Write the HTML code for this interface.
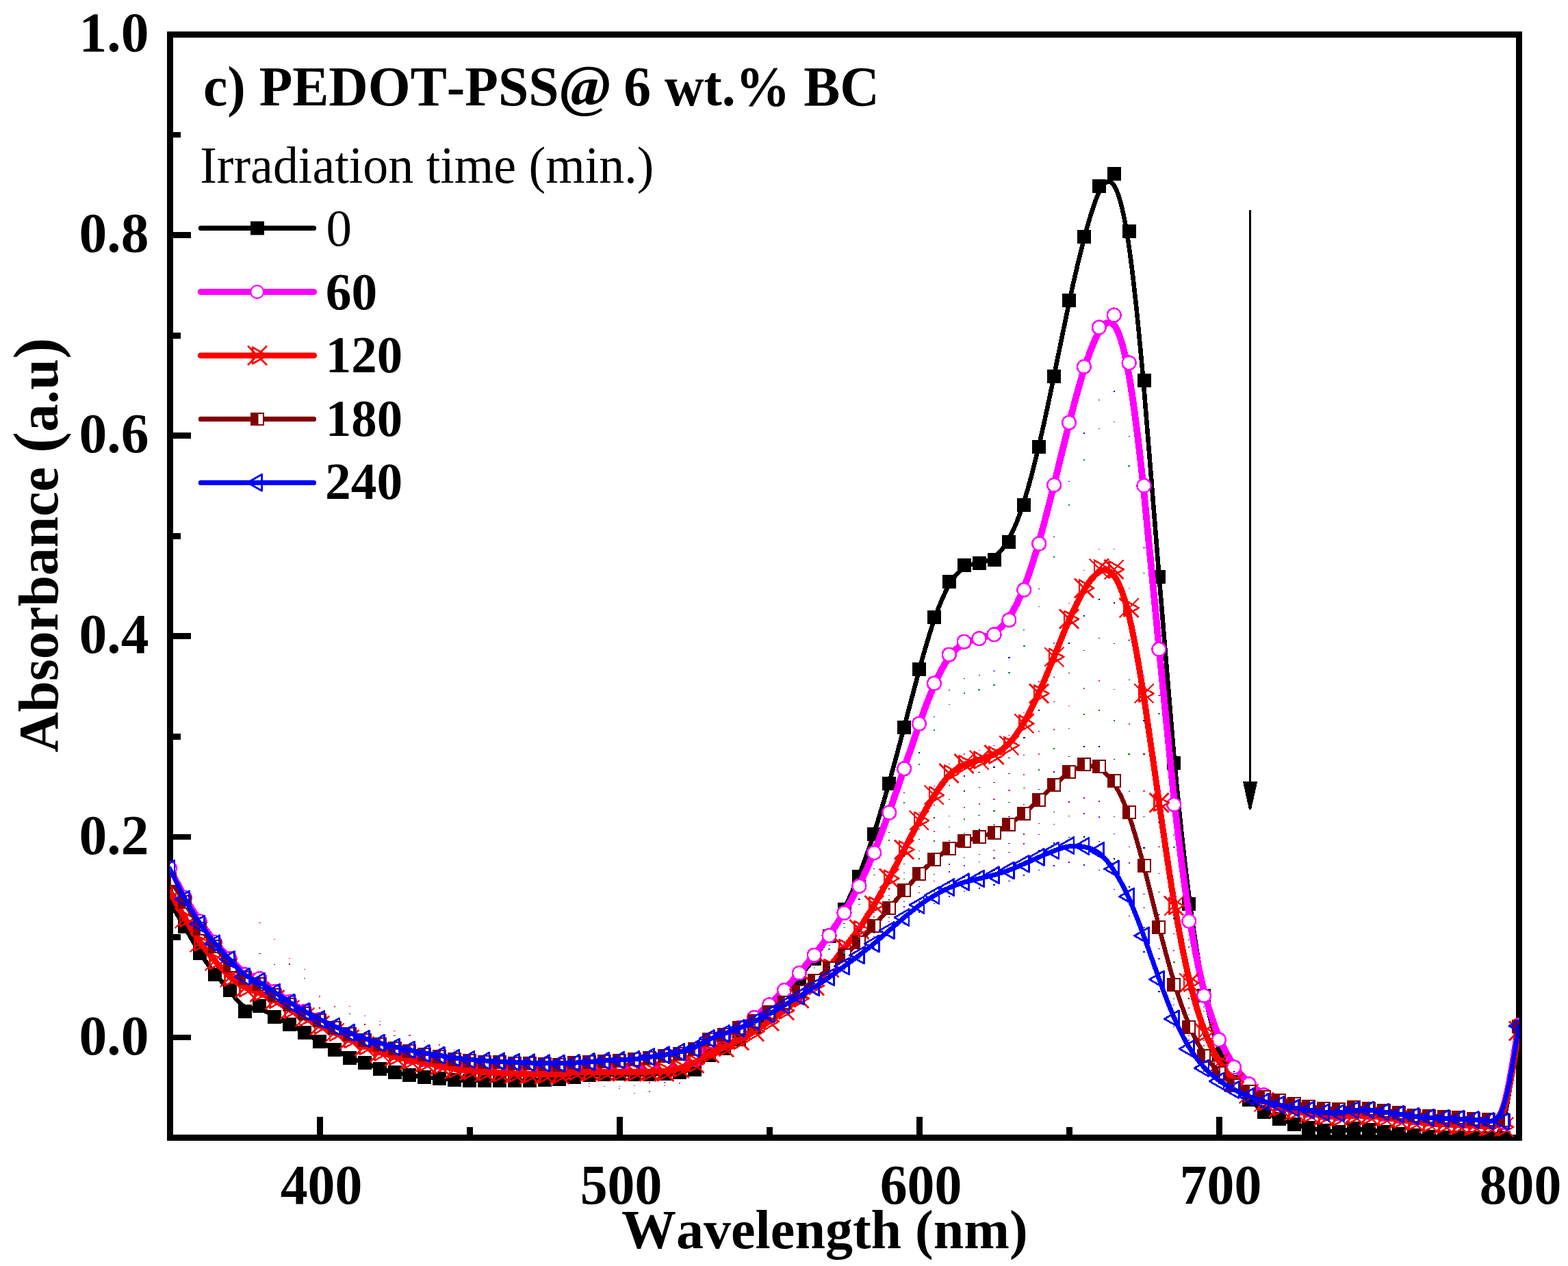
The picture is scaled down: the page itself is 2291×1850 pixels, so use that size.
<!DOCTYPE html>
<html lang="en"><head><meta charset="utf-8"><title>c) PEDOT-PSS@ 6 wt.% BC</title>
<style>html,body{margin:0;padding:0;background:#fff;overflow:hidden}svg{display:block}text{font-family:"Liberation Serif",serif;font-kerning:none;white-space:pre}</style></head><body>
<svg width="2291" height="1850" viewBox="0 0 2291 1850">
<rect width="2291" height="1850" fill="#fff"/>
<defs>
<clipPath id="pc"><rect x="248.4" y="50.5" width="1971.5" height="1612.5"/></clipPath>
<rect id="mk" x="-10" y="-10" width="20" height="20" fill="#000"/>
<circle id="mm" r="9.9" fill="#fff" stroke="#f0f" stroke-width="2.5"/>
<g id="mr" fill="none" stroke="#f00" stroke-width="2.6"><path d="M-14 -14L14 14M-14 14L14 -14"/><path d="M-7 -12L14.2 0L-7 12Z" stroke-linejoin="round"/></g>
<g id="mn"><rect x="-10" y="-10" width="20" height="20" fill="#800000"/><rect x="1.5" y="-8" width="6.5" height="16" fill="#fff"/></g>
<path id="mb" d="M-14 0L7 -12L7 12Z" fill="none" stroke="#00f" stroke-width="2.8" stroke-linejoin="round"/>
</defs>
<g shape-rendering="crispEdges" fill="#000">
<rect x="244" y="46" width="1980" height="9"/>
<rect x="244" y="1658" width="1980" height="9"/>
<rect x="244" y="46" width="9" height="1621"/>
<rect x="2215" y="46" width="9" height="1621"/>
<rect x="250" y="1511.6" width="29" height="8.8"/>
<rect x="250" y="1365" width="14" height="8.8"/>
<rect x="250" y="1218.5" width="29" height="8.8"/>
<rect x="250" y="1071.9" width="14" height="8.8"/>
<rect x="250" y="925.4" width="29" height="8.8"/>
<rect x="250" y="778.8" width="14" height="8.8"/>
<rect x="250" y="632.3" width="29" height="8.8"/>
<rect x="250" y="485.7" width="14" height="8.8"/>
<rect x="250" y="339.2" width="29" height="8.8"/>
<rect x="250" y="192.6" width="14" height="8.8"/>
<rect x="463.1" y="1632" width="8.8" height="28"/>
<rect x="682.1" y="1647" width="8.8" height="13"/>
<rect x="901.1" y="1632" width="8.8" height="28"/>
<rect x="1120.1" y="1647" width="8.8" height="13"/>
<rect x="1339.1" y="1632" width="8.8" height="28"/>
<rect x="1558.1" y="1647" width="8.8" height="13"/>
<rect x="1777.1" y="1632" width="8.8" height="28"/>
<rect x="1996.1" y="1647" width="8.8" height="13"/>
</g>
<g clip-path="url(#pc)" shape-rendering="crispEdges">
<g id="s-black">
<path d="M248 1318C248 1318 248 1318 251.7 1324C255.3 1330.1 262.6 1342.2 269.9 1354.7C277.2 1367.1 284.5 1380 291.8 1391.5C299.1 1403 306.4 1413.3 313.7 1422.3C321 1431.3 328.3 1439 335.6 1448.1C342.9 1457.2 350.2 1467.6 357.5 1471.5C364.8 1475.5 372.1 1472.9 379.4 1474.3C386.7 1475.7 394 1481.1 401.3 1485.5C408.6 1489.9 415.9 1493.3 423.2 1497.1C430.5 1500.9 437.8 1505.1 445.1 1509.2C452.4 1513.4 459.7 1517.7 467 1521.8C474.3 1525.9 481.6 1529.8 488.9 1533.9C496.2 1537.9 503.5 1541.9 510.8 1545.2C518.1 1548.4 525.4 1550.9 532.7 1553.5C540 1556.2 547.3 1559 554.6 1561.3C561.9 1563.6 569.2 1565.2 576.5 1566.8C583.8 1568.3 591.1 1569.6 598.4 1570.8C605.7 1572 613 1573 620.3 1573.9C627.6 1574.7 634.9 1575.5 642.2 1576.1C649.5 1576.8 656.8 1577.4 664.1 1577.9C671.4 1578.3 678.7 1578.7 686 1578.8C693.3 1579 700.6 1579 707.9 1579C715.2 1579 722.5 1579 729.8 1579C737.1 1579 744.4 1579 751.7 1579C759 1579 766.3 1579 773.6 1578.8C780.9 1578.7 788.2 1578.3 795.5 1578C802.8 1577.7 810.1 1577.3 817.4 1576.6C824.7 1576 832 1574.9 839.3 1573.9C846.6 1572.9 853.9 1572 861.2 1571.2C868.5 1570.5 875.8 1570.1 883.1 1569.7C890.4 1569.3 897.7 1569.1 905 1569.1C912.3 1569.1 919.6 1569.3 926.9 1569.5C934.2 1569.6 941.5 1569.6 948.8 1569.5C956.1 1569.3 963.4 1569.1 970.7 1568.6C978 1568.1 985.3 1567.5 992.6 1566.5C999.9 1565.4 1007.2 1564.1 1014.5 1559.9C1021.8 1555.7 1029.1 1548.7 1036.4 1543.6C1043.7 1538.5 1051 1535.2 1058.3 1531.5C1065.6 1527.7 1072.9 1523.3 1080.2 1518.4C1087.5 1513.4 1094.8 1507.8 1102.1 1501.8C1109.4 1495.8 1116.7 1489.4 1124 1481.7C1131.3 1474 1138.6 1465 1145.9 1455.9C1153.2 1446.8 1160.5 1437.7 1167.8 1428.5C1175.1 1419.3 1182.4 1410.2 1189.7 1400.1C1197 1390.1 1204.3 1379.3 1211.6 1367.3C1218.9 1355.4 1226.2 1342.3 1233.5 1327.8C1240.8 1313.2 1248.1 1297 1255.4 1278.6C1262.7 1260.1 1270 1239.4 1277.3 1216.7C1284.6 1194 1291.9 1169.3 1299.2 1143.4C1306.5 1117.4 1313.8 1090.1 1321.1 1062.3C1328.4 1034.5 1335.7 1006.1 1343 979.3C1350.3 952.5 1357.6 927.2 1364.9 905.9C1372.2 884.7 1379.5 867.5 1386.8 854.8C1394.1 842.2 1401.4 834.1 1408.7 829.5C1416 824.9 1423.3 823.9 1430.6 822.4C1437.9 821 1445.2 819.3 1452.5 814.1C1459.8 808.8 1467.1 800.2 1474.4 786.9C1481.7 773.5 1489 755.6 1496.3 732.5C1503.6 709.4 1510.9 681.3 1518.2 650.1C1525.5 618.9 1532.8 584.6 1540.1 549C1547.4 513.4 1554.7 476.4 1562 442.3C1569.3 408.2 1576.6 376.9 1583.9 349C1591.2 321 1598.5 296.3 1605.8 281C1613.1 265.7 1620.4 259.9 1627.7 270.9C1635 282 1642.3 310 1649.6 360.4C1656.9 410.8 1664.2 483.6 1671.5 567.8C1678.8 652 1686.1 747.6 1693.4 840.7C1700.7 933.8 1708 1024.4 1715.3 1104.1C1722.6 1183.8 1729.9 1252.5 1737.2 1309.2C1744.5 1365.9 1751.8 1410.4 1759.1 1447C1766.4 1483.5 1773.7 1512 1781 1533C1788.3 1554 1795.6 1567.5 1802.9 1578.5C1810.2 1589.6 1817.5 1598.1 1824.8 1605.5C1832.1 1612.8 1839.4 1618.9 1846.7 1623.7C1854 1628.4 1861.3 1631.9 1868.6 1634.8C1875.9 1637.8 1883.2 1640.3 1890.5 1642.5C1897.8 1644.7 1905.1 1646.5 1912.4 1648.1C1919.7 1649.7 1927 1651 1934.3 1652C1941.6 1652.9 1948.9 1653.6 1956.2 1653.1C1963.5 1652.5 1970.8 1650.9 1978.1 1650.4C1985.4 1649.9 1992.7 1650.7 2000 1651.4C2007.3 1652.1 2014.6 1652.9 2021.9 1653.8C2029.2 1654.7 2036.5 1655.9 2043.8 1656.8C2051.1 1657.7 2058.4 1658.5 2065.7 1659C2073 1659.6 2080.3 1660.1 2087.6 1660.5C2094.9 1660.8 2102.2 1661.2 2109.5 1661.4C2116.8 1661.7 2124.1 1661.8 2131.4 1662C2138.7 1662.2 2146 1662.3 2153.3 1662.5C2160.6 1662.7 2167.9 1662.8 2175.2 1662.9C2182.5 1663 2189.8 1663 2197.1 1635.8C2204.4 1608.7 2211.7 1554.3 2215.3 1527.2C2219 1500 2219 1500 2219 1500" fill="none" stroke="#000000" stroke-width="6.6" stroke-linejoin="round" stroke-linecap="round"/>
<use href="#mk" x="248" y="1318"/>
<use href="#mk" x="269.9" y="1354.3"/>
<use href="#mk" x="291.8" y="1392.8"/>
<use href="#mk" x="313.7" y="1423.5"/>
<use href="#mk" x="335.6" y="1446.8"/>
<use href="#mk" x="357.5" y="1478"/>
<use href="#mk" x="379.4" y="1470.4"/>
<use href="#mk" x="401.3" y="1486.4"/>
<use href="#mk" x="423.2" y="1496.8"/>
<use href="#mk" x="445.1" y="1509.2"/>
<use href="#mk" x="467" y="1521.9"/>
<use href="#mk" x="488.9" y="1533.8"/>
<use href="#mk" x="510.8" y="1546"/>
<use href="#mk" x="532.7" y="1553.3"/>
<use href="#mk" x="554.6" y="1561.9"/>
<use href="#mk" x="576.5" y="1566.9"/>
<use href="#mk" x="598.4" y="1571"/>
<use href="#mk" x="620.3" y="1574"/>
<use href="#mk" x="642.2" y="1576.2"/>
<use href="#mk" x="664.1" y="1578"/>
<use href="#mk" x="686" y="1579"/>
<use href="#mk" x="707.9" y="1579"/>
<use href="#mk" x="729.8" y="1579"/>
<use href="#mk" x="751.7" y="1579"/>
<use href="#mk" x="773.6" y="1579"/>
<use href="#mk" x="795.5" y="1578"/>
<use href="#mk" x="817.4" y="1577"/>
<use href="#mk" x="839.3" y="1573.9"/>
<use href="#mk" x="861.2" y="1571"/>
<use href="#mk" x="883.1" y="1569.6"/>
<use href="#mk" x="905" y="1568.8"/>
<use href="#mk" x="926.9" y="1569.6"/>
<use href="#mk" x="948.8" y="1569.6"/>
<use href="#mk" x="970.7" y="1568.8"/>
<use href="#mk" x="992.6" y="1566.8"/>
<use href="#mk" x="1014.5" y="1562.7"/>
<use href="#mk" x="1036.4" y="1541.7"/>
<use href="#mk" x="1058.3" y="1532"/>
<use href="#mk" x="1080.2" y="1519"/>
<use href="#mk" x="1102.1" y="1502.2"/>
<use href="#mk" x="1124" y="1483"/>
<use href="#mk" x="1145.9" y="1456"/>
<use href="#mk" x="1167.8" y="1428.5"/>
<use href="#mk" x="1189.7" y="1401"/>
<use href="#mk" x="1211.6" y="1368.4"/>
<use href="#mk" x="1233.5" y="1329.3"/>
<use href="#mk" x="1255.4" y="1280.9"/>
<use href="#mk" x="1277.3" y="1218.6"/>
<use href="#mk" x="1299.2" y="1144.7"/>
<use href="#mk" x="1321.1" y="1062.8"/>
<use href="#mk" x="1343" y="977.8"/>
<use href="#mk" x="1364.9" y="901.9"/>
<use href="#mk" x="1386.8" y="850.3"/>
<use href="#mk" x="1408.7" y="826"/>
<use href="#mk" x="1430.6" y="822.8"/>
<use href="#mk" x="1452.5" y="817.5"/>
<use href="#mk" x="1474.4" y="791.5"/>
<use href="#mk" x="1496.3" y="737.6"/>
<use href="#mk" x="1518.2" y="653.1"/>
<use href="#mk" x="1540.1" y="550.4"/>
<use href="#mk" x="1562" y="439.4"/>
<use href="#mk" x="1583.9" y="345.7"/>
<use href="#mk" x="1605.8" y="271.6"/>
<use href="#mk" x="1627.7" y="254"/>
<use href="#mk" x="1649.6" y="338"/>
<use href="#mk" x="1671.5" y="556.4"/>
<use href="#mk" x="1693.4" y="843.2"/>
<use href="#mk" x="1715.3" y="1115"/>
<use href="#mk" x="1737.2" y="1321.3"/>
<use href="#mk" x="1759.1" y="1455"/>
<use href="#mk" x="1781" y="1540.5"/>
<use href="#mk" x="1802.9" y="1581"/>
<use href="#mk" x="1824.8" y="1606.7"/>
<use href="#mk" x="1846.7" y="1625"/>
<use href="#mk" x="1868.6" y="1635.3"/>
<use href="#mk" x="1890.5" y="1642.8"/>
<use href="#mk" x="1912.4" y="1648.4"/>
<use href="#mk" x="1934.3" y="1652.3"/>
<use href="#mk" x="1956.2" y="1654.2"/>
<use href="#mk" x="1978.1" y="1649.2"/>
<use href="#mk" x="2000" y="1651.4"/>
<use href="#mk" x="2021.9" y="1653.6"/>
<use href="#mk" x="2043.8" y="1657"/>
<use href="#mk" x="2065.7" y="1659.2"/>
<use href="#mk" x="2087.6" y="1660.5"/>
<use href="#mk" x="2109.5" y="1661.5"/>
<use href="#mk" x="2131.4" y="1662"/>
<use href="#mk" x="2153.3" y="1662.5"/>
<use href="#mk" x="2175.2" y="1663"/>
<use href="#mk" x="2197.1" y="1663"/>
<use href="#mk" x="2219" y="1500"/>
</g>
<g id="s-magenta">
<path d="M248 1269C248 1269 248 1269 251.7 1276.2C255.3 1283.3 262.6 1297.7 269.9 1310.6C277.2 1323.5 284.5 1335 291.8 1345.8C299.1 1356.7 306.4 1366.8 313.7 1375.9C321 1385 328.3 1393 335.6 1400.8C342.9 1408.7 350.2 1416.3 357.5 1421.2C364.8 1426 372.1 1428 379.4 1432.2C386.7 1436.3 394 1442.7 401.3 1448.3C408.6 1454 415.9 1459 423.2 1463.8C430.5 1468.7 437.8 1473.3 445.1 1477.7C452.4 1482 459.7 1486 467 1490C474.3 1494 481.6 1498 488.9 1501.8C496.2 1505.7 503.5 1509.3 510.8 1512.8C518.1 1516.3 525.4 1519.7 532.7 1522.7C540 1525.7 547.3 1528.3 554.6 1530.8C561.9 1533.3 569.2 1535.7 576.5 1537.8C583.8 1540 591.1 1542 598.4 1543.7C605.7 1545.3 613 1546.7 620.3 1548C627.6 1549.3 634.9 1550.7 642.2 1551.8C649.5 1553 656.8 1554 664.1 1554.8C671.4 1555.7 678.7 1556.3 686 1557C693.3 1557.7 700.6 1558.3 707.9 1558.8C715.2 1559.3 722.5 1559.7 729.8 1560C737.1 1560.3 744.4 1560.7 751.7 1560.8C759 1561 766.3 1561 773.6 1561C780.9 1561 788.2 1561 795.5 1561C802.8 1561 810.1 1561 817.4 1560.8C824.7 1560.7 832 1560.3 839.3 1560.1C846.6 1559.8 853.9 1559.6 861.2 1559.3C868.5 1559.1 875.8 1558.9 883.1 1558.7C890.4 1558.4 897.7 1558.2 905 1558C912.3 1557.8 919.6 1557.6 926.9 1557.3C934.2 1557.1 941.5 1556.9 948.8 1556.7C956.1 1556.4 963.4 1556.2 970.7 1555.6C978 1555 985.3 1554 992.6 1552.7C999.9 1551.3 1007.2 1549.7 1014.5 1544.5C1021.8 1539.3 1029.1 1530.7 1036.4 1524.8C1043.7 1519 1051 1516 1058.3 1512.7C1065.6 1509.3 1072.9 1505.7 1080.2 1501.3C1087.5 1497 1094.8 1492 1102.1 1486.4C1109.4 1480.8 1116.7 1474.6 1124 1467.9C1131.3 1461.3 1138.6 1454.1 1145.9 1446.4C1153.2 1438.6 1160.5 1430.3 1167.8 1421.7C1175.1 1413.2 1182.4 1404.5 1189.7 1395.4C1197 1386.2 1204.3 1376.7 1211.6 1366.4C1218.9 1356.1 1226.2 1345 1233.5 1333C1240.8 1321 1248.1 1307.9 1255.4 1293.3C1262.7 1278.6 1270 1262.4 1277.3 1244.5C1284.6 1226.6 1291.9 1207 1299.2 1186.6C1306.5 1166.1 1313.8 1144.7 1321.1 1123C1328.4 1101.4 1335.7 1079.5 1343 1058.7C1350.3 1037.9 1357.6 1018.3 1364.9 1001.4C1372.2 984.6 1379.5 970.7 1386.8 960.5C1394.1 950.4 1401.4 944.1 1408.7 940.2C1416 936.2 1423.3 934.7 1430.6 932.9C1437.9 931.2 1445.2 929.2 1452.5 924.7C1459.8 920.2 1467.1 913.1 1474.4 902.2C1481.7 891.3 1489 876.7 1496.3 858.1C1503.6 839.5 1510.9 817 1518.2 791.4C1525.5 765.9 1532.8 737.3 1540.1 707.8C1547.4 678.3 1554.7 648 1562 619.2C1569.3 590.4 1576.6 563.1 1583.9 539.9C1591.2 516.8 1598.5 497.6 1605.8 485.1C1613.1 472.5 1620.4 466.5 1627.7 475.1C1635 483.8 1642.3 507 1649.6 548.6C1656.9 590.1 1664.2 649.9 1671.5 719.7C1678.8 789.4 1686.1 869.1 1693.4 946.8C1700.7 1024.5 1708 1100.1 1715.3 1166.3C1722.6 1232.5 1729.9 1289.3 1737.2 1335.8C1744.5 1382.3 1751.8 1418.6 1759.1 1447.5C1766.4 1476.4 1773.7 1497.9 1781 1515.3C1788.3 1532.7 1795.6 1546.1 1802.9 1556.9C1810.2 1567.7 1817.5 1575.9 1824.8 1582.7C1832.1 1589.5 1839.4 1594.9 1846.7 1599.2C1854 1603.6 1861.3 1606.9 1868.6 1609.7C1875.9 1612.5 1883.2 1614.8 1890.5 1616.7C1897.8 1618.7 1905.1 1620.3 1912.4 1621.8C1919.7 1623.3 1927 1624.7 1934.3 1625.5C1941.6 1626.3 1948.9 1626.7 1956.2 1626.2C1963.5 1625.7 1970.8 1624.3 1978.1 1624.1C1985.4 1623.8 1992.7 1624.7 2000 1625.5C2007.3 1626.3 2014.6 1627.2 2021.9 1628C2029.2 1628.9 2036.5 1629.9 2043.8 1630.7C2051.1 1631.5 2058.4 1632.3 2065.7 1633C2073 1633.7 2080.3 1634.3 2087.6 1634.8C2094.9 1635.3 2102.2 1635.7 2109.5 1636C2116.8 1636.3 2124.1 1636.7 2131.4 1637C2138.7 1637.3 2146 1637.7 2153.3 1637.9C2160.6 1638.2 2167.9 1638.3 2175.2 1638.7C2182.5 1639 2189.8 1639.5 2197.1 1616.1C2204.4 1592.7 2211.7 1545.3 2215.3 1521.7C2219 1498 2219 1498 2219 1498" fill="none" stroke="#ff00ff" stroke-width="9.8" stroke-linejoin="round" stroke-linecap="round"/>
<use href="#mm" x="248" y="1269"/>
<use href="#mm" x="269.9" y="1312"/>
<use href="#mm" x="291.8" y="1346.5"/>
<use href="#mm" x="313.7" y="1377"/>
<use href="#mm" x="335.6" y="1401"/>
<use href="#mm" x="357.5" y="1424"/>
<use href="#mm" x="379.4" y="1430"/>
<use href="#mm" x="401.3" y="1449"/>
<use href="#mm" x="423.2" y="1464"/>
<use href="#mm" x="445.1" y="1478"/>
<use href="#mm" x="467" y="1490"/>
<use href="#mm" x="488.9" y="1502"/>
<use href="#mm" x="510.8" y="1513"/>
<use href="#mm" x="532.7" y="1523"/>
<use href="#mm" x="554.6" y="1531"/>
<use href="#mm" x="576.5" y="1538"/>
<use href="#mm" x="598.4" y="1544"/>
<use href="#mm" x="620.3" y="1548"/>
<use href="#mm" x="642.2" y="1552"/>
<use href="#mm" x="664.1" y="1555"/>
<use href="#mm" x="686" y="1557"/>
<use href="#mm" x="707.9" y="1559"/>
<use href="#mm" x="729.8" y="1560"/>
<use href="#mm" x="751.7" y="1561"/>
<use href="#mm" x="773.6" y="1561"/>
<use href="#mm" x="795.5" y="1561"/>
<use href="#mm" x="817.4" y="1561"/>
<use href="#mm" x="839.3" y="1560"/>
<use href="#mm" x="861.2" y="1559.3"/>
<use href="#mm" x="883.1" y="1558.7"/>
<use href="#mm" x="905" y="1558"/>
<use href="#mm" x="926.9" y="1557.3"/>
<use href="#mm" x="948.8" y="1556.7"/>
<use href="#mm" x="970.7" y="1556"/>
<use href="#mm" x="992.6" y="1553"/>
<use href="#mm" x="1014.5" y="1548"/>
<use href="#mm" x="1036.4" y="1522"/>
<use href="#mm" x="1058.3" y="1513"/>
<use href="#mm" x="1080.2" y="1502"/>
<use href="#mm" x="1102.1" y="1487"/>
<use href="#mm" x="1124" y="1468.4"/>
<use href="#mm" x="1145.9" y="1447"/>
<use href="#mm" x="1167.8" y="1421.9"/>
<use href="#mm" x="1189.7" y="1395.8"/>
<use href="#mm" x="1211.6" y="1367.1"/>
<use href="#mm" x="1233.5" y="1334"/>
<use href="#mm" x="1255.4" y="1294.9"/>
<use href="#mm" x="1277.3" y="1246.1"/>
<use href="#mm" x="1299.2" y="1187.5"/>
<use href="#mm" x="1321.1" y="1123.3"/>
<use href="#mm" x="1343" y="1057.6"/>
<use href="#mm" x="1364.9" y="998.6"/>
<use href="#mm" x="1386.8" y="956.7"/>
<use href="#mm" x="1408.7" y="937.8"/>
<use href="#mm" x="1430.6" y="933.1"/>
<use href="#mm" x="1452.5" y="927.3"/>
<use href="#mm" x="1474.4" y="906"/>
<use href="#mm" x="1496.3" y="862"/>
<use href="#mm" x="1518.2" y="794.5"/>
<use href="#mm" x="1540.1" y="708.7"/>
<use href="#mm" x="1562" y="617.6"/>
<use href="#mm" x="1583.9" y="535.9"/>
<use href="#mm" x="1605.8" y="478.5"/>
<use href="#mm" x="1627.7" y="460.5"/>
<use href="#mm" x="1649.6" y="530.3"/>
<use href="#mm" x="1671.5" y="709.7"/>
<use href="#mm" x="1693.4" y="948.8"/>
<use href="#mm" x="1715.3" y="1175.8"/>
<use href="#mm" x="1737.2" y="1346"/>
<use href="#mm" x="1759.1" y="1454.9"/>
<use href="#mm" x="1781" y="1519.4"/>
<use href="#mm" x="1802.9" y="1559.4"/>
<use href="#mm" x="1824.8" y="1584.2"/>
<use href="#mm" x="1846.7" y="1600.2"/>
<use href="#mm" x="1868.6" y="1610.3"/>
<use href="#mm" x="1890.5" y="1617"/>
<use href="#mm" x="1912.4" y="1622"/>
<use href="#mm" x="1934.3" y="1626"/>
<use href="#mm" x="1956.2" y="1627"/>
<use href="#mm" x="1978.1" y="1623"/>
<use href="#mm" x="2000" y="1625.5"/>
<use href="#mm" x="2021.9" y="1628"/>
<use href="#mm" x="2043.8" y="1630.8"/>
<use href="#mm" x="2065.7" y="1633"/>
<use href="#mm" x="2087.6" y="1635"/>
<use href="#mm" x="2109.5" y="1636"/>
<use href="#mm" x="2131.4" y="1637"/>
<use href="#mm" x="2153.3" y="1638"/>
<use href="#mm" x="2175.2" y="1638.5"/>
<use href="#mm" x="2197.1" y="1640"/>
<use href="#mm" x="2219" y="1498"/>
</g>
<g id="s-red">
<path d="M248 1302.8C248 1302.8 248 1302.8 251.7 1309.3C255.3 1315.9 262.6 1328.9 269.9 1341.3C277.2 1353.7 284.5 1365.5 291.8 1375.8C299.1 1386.2 306.4 1395.2 313.7 1403.7C321 1412.3 328.3 1420.3 335.6 1427C342.9 1433.7 350.2 1438.9 357.5 1442.5C364.8 1446.1 372.1 1448.1 379.4 1450.9C386.7 1453.7 394 1457.3 401.3 1461.6C408.6 1465.9 415.9 1470.9 423.2 1475.2C430.5 1479.5 437.8 1483.3 445.1 1487.1C452.4 1490.9 459.7 1494.7 467 1498.4C474.3 1502.1 481.6 1505.5 488.9 1508.9C496.2 1512.3 503.5 1515.7 510.8 1519C518.1 1522.3 525.4 1525.7 532.7 1528.8C540 1531.9 547.3 1534.8 554.6 1537.3C561.9 1539.8 569.2 1541.9 576.5 1543.8C583.8 1545.7 591.1 1547.3 598.4 1548.8C605.7 1550.3 613 1551.7 620.3 1553C627.6 1554.3 634.9 1555.7 642.2 1557.2C649.5 1558.8 656.8 1560.7 664.1 1561.9C671.4 1563.2 678.7 1563.8 686 1564.5C693.3 1565.2 700.6 1565.8 707.9 1566.4C715.2 1567 722.5 1567.5 729.8 1567.9C737.1 1568.3 744.4 1568.7 751.7 1569C759 1569.3 766.3 1569.5 773.6 1569.7C780.9 1569.9 788.2 1569.9 795.5 1570C802.8 1570 810.1 1570 817.4 1569.3C824.7 1568.7 832 1567.3 839.3 1566.7C846.6 1566 853.9 1566 861.2 1566C868.5 1566 875.8 1566 883.1 1566C890.4 1566 897.7 1566 905 1566C912.3 1566 919.6 1566 926.9 1566C934.2 1566 941.5 1566 948.8 1566C956.1 1566 963.4 1566 970.7 1565.2C978 1564.5 985.3 1562.9 992.6 1560.9C999.9 1558.9 1007.2 1556.5 1014.5 1552.7C1021.8 1549 1029.1 1544 1036.4 1540.1C1043.7 1536.2 1051 1533.5 1058.3 1530.4C1065.6 1527.3 1072.9 1523.9 1080.2 1520C1087.5 1516.1 1094.8 1511.8 1102.1 1507.1C1109.4 1502.5 1116.7 1497.5 1124 1492.4C1131.3 1487.3 1138.6 1482 1145.9 1476.4C1153.2 1470.8 1160.5 1464.9 1167.8 1458.9C1175.1 1452.8 1182.4 1446.7 1189.7 1439.2C1197 1431.7 1204.3 1422.8 1211.6 1413.6C1218.9 1404.3 1226.2 1394.7 1233.5 1385.4C1240.8 1376 1248.1 1367.1 1255.4 1356.7C1262.7 1346.3 1270 1334.6 1277.3 1322.2C1284.6 1309.8 1291.9 1296.7 1299.2 1283.2C1306.5 1269.6 1313.8 1255.6 1321.1 1241.5C1328.4 1227.3 1335.7 1213.2 1343 1199.9C1350.3 1186.6 1357.6 1174.3 1364.9 1162.8C1372.2 1151.3 1379.5 1140.8 1386.8 1133.2C1394.1 1125.6 1401.4 1120.9 1408.7 1117.7C1416 1114.4 1423.3 1112.6 1430.6 1110.4C1437.9 1108.2 1445.2 1105.8 1452.5 1102.2C1459.8 1098.6 1467.1 1094 1474.4 1086.3C1481.7 1078.6 1489 1068 1496.3 1055.3C1503.6 1042.7 1510.9 1028 1518.2 1011.8C1525.5 995.6 1532.8 977.8 1540.1 959.7C1547.4 941.6 1554.7 923.1 1562 906.4C1569.3 889.6 1576.6 874.6 1583.9 862.2C1591.2 849.9 1598.5 840.3 1605.8 835.8C1613.1 831.2 1620.4 831.7 1627.7 841.3C1635 850.9 1642.3 869.7 1649.6 899.9C1656.9 930.1 1664.2 971.8 1671.5 1019.2C1678.8 1066.7 1686.1 1119.8 1693.4 1171.5C1700.7 1223.2 1708 1273.5 1715.3 1317.4C1722.6 1361.2 1729.9 1398.8 1737.2 1429.6C1744.5 1460.5 1751.8 1484.6 1759.1 1504.1C1766.4 1523.5 1773.7 1538.3 1781 1550.4C1788.3 1562.5 1795.6 1571.9 1802.9 1579.5C1810.2 1587 1817.5 1592.7 1824.8 1597.5C1832.1 1602.3 1839.4 1606.4 1846.7 1609.7C1854 1612.9 1861.3 1615.5 1868.6 1617.6C1875.9 1619.8 1883.2 1621.7 1890.5 1623.2C1897.8 1624.8 1905.1 1626.2 1912.4 1627.3C1919.7 1628.5 1927 1629.5 1934.3 1630.3C1941.6 1631.1 1948.9 1631.7 1956.2 1631.5C1963.5 1631.4 1970.8 1630.4 1978.1 1630.1C1985.4 1629.8 1992.7 1630 2000 1630.6C2007.3 1631.2 2014.6 1632.1 2021.9 1633C2029.2 1634 2036.5 1635 2043.8 1636C2051.1 1637 2058.4 1638 2065.7 1638.9C2073 1639.8 2080.3 1640.7 2087.6 1641.3C2094.9 1642 2102.2 1642.5 2109.5 1642.9C2116.8 1643.3 2124.1 1643.7 2131.4 1644C2138.7 1644.3 2146 1644.7 2153.3 1645C2160.6 1645.3 2167.9 1645.7 2175.2 1646C2182.5 1646.3 2189.8 1646.7 2197.1 1623.4C2204.4 1600.2 2211.7 1553.4 2215.3 1530C2219 1506.6 2219 1506.6 2219 1506.6" fill="none" stroke="#ff0000" stroke-width="9.0" stroke-linejoin="round" stroke-linecap="round"/>
<use href="#mr" x="248" y="1302.8"/>
<use href="#mr" x="269.9" y="1342"/>
<use href="#mr" x="291.8" y="1377.2"/>
<use href="#mr" x="313.7" y="1404.2"/>
<use href="#mr" x="335.6" y="1428.4"/>
<use href="#mr" x="357.5" y="1444.2"/>
<use href="#mr" x="379.4" y="1450"/>
<use href="#mr" x="401.3" y="1461"/>
<use href="#mr" x="423.2" y="1475.8"/>
<use href="#mr" x="445.1" y="1487"/>
<use href="#mr" x="467" y="1498.6"/>
<use href="#mr" x="488.9" y="1509"/>
<use href="#mr" x="510.8" y="1519"/>
<use href="#mr" x="532.7" y="1529"/>
<use href="#mr" x="554.6" y="1537.7"/>
<use href="#mr" x="576.5" y="1544"/>
<use href="#mr" x="598.4" y="1549"/>
<use href="#mr" x="620.3" y="1553"/>
<use href="#mr" x="642.2" y="1557"/>
<use href="#mr" x="664.1" y="1562.5"/>
<use href="#mr" x="686" y="1564.5"/>
<use href="#mr" x="707.9" y="1566.5"/>
<use href="#mr" x="729.8" y="1568"/>
<use href="#mr" x="751.7" y="1569"/>
<use href="#mr" x="773.6" y="1569.8"/>
<use href="#mr" x="795.5" y="1570"/>
<use href="#mr" x="817.4" y="1570"/>
<use href="#mr" x="839.3" y="1566"/>
<use href="#mr" x="861.2" y="1566"/>
<use href="#mr" x="883.1" y="1566"/>
<use href="#mr" x="905" y="1566"/>
<use href="#mr" x="926.9" y="1566"/>
<use href="#mr" x="948.8" y="1566"/>
<use href="#mr" x="970.7" y="1566"/>
<use href="#mr" x="992.6" y="1561.4"/>
<use href="#mr" x="1014.5" y="1554"/>
<use href="#mr" x="1036.4" y="1539"/>
<use href="#mr" x="1058.3" y="1530.7"/>
<use href="#mr" x="1080.2" y="1520.5"/>
<use href="#mr" x="1102.1" y="1507.4"/>
<use href="#mr" x="1124" y="1492.6"/>
<use href="#mr" x="1145.9" y="1476.7"/>
<use href="#mr" x="1167.8" y="1459"/>
<use href="#mr" x="1189.7" y="1440.5"/>
<use href="#mr" x="1211.6" y="1414"/>
<use href="#mr" x="1233.5" y="1385"/>
<use href="#mr" x="1255.4" y="1358.1"/>
<use href="#mr" x="1277.3" y="1322.8"/>
<use href="#mr" x="1299.2" y="1283.7"/>
<use href="#mr" x="1321.1" y="1241.5"/>
<use href="#mr" x="1343" y="1199"/>
<use href="#mr" x="1364.9" y="1161.9"/>
<use href="#mr" x="1386.8" y="1130.2"/>
<use href="#mr" x="1408.7" y="1116.3"/>
<use href="#mr" x="1430.6" y="1110.7"/>
<use href="#mr" x="1452.5" y="1103.3"/>
<use href="#mr" x="1474.4" y="1089.3"/>
<use href="#mr" x="1496.3" y="1057.3"/>
<use href="#mr" x="1518.2" y="1013.4"/>
<use href="#mr" x="1540.1" y="960"/>
<use href="#mr" x="1562" y="904.7"/>
<use href="#mr" x="1583.9" y="859.5"/>
<use href="#mr" x="1605.8" y="830.7"/>
<use href="#mr" x="1627.7" y="832.2"/>
<use href="#mr" x="1649.6" y="888.4"/>
<use href="#mr" x="1671.5" y="1013.5"/>
<use href="#mr" x="1693.4" y="1173"/>
<use href="#mr" x="1715.3" y="1323.7"/>
<use href="#mr" x="1737.2" y="1436.3"/>
<use href="#mr" x="1759.1" y="1508.8"/>
<use href="#mr" x="1781" y="1553"/>
<use href="#mr" x="1802.9" y="1581.4"/>
<use href="#mr" x="1824.8" y="1598.3"/>
<use href="#mr" x="1846.7" y="1610.4"/>
<use href="#mr" x="1868.6" y="1618"/>
<use href="#mr" x="1890.5" y="1623.5"/>
<use href="#mr" x="1912.4" y="1627.5"/>
<use href="#mr" x="1934.3" y="1630.5"/>
<use href="#mr" x="1956.2" y="1632.3"/>
<use href="#mr" x="1978.1" y="1629.5"/>
<use href="#mr" x="2000" y="1630.3"/>
<use href="#mr" x="2021.9" y="1633"/>
<use href="#mr" x="2043.8" y="1636"/>
<use href="#mr" x="2065.7" y="1639"/>
<use href="#mr" x="2087.6" y="1641.5"/>
<use href="#mr" x="2109.5" y="1643"/>
<use href="#mr" x="2131.4" y="1644"/>
<use href="#mr" x="2153.3" y="1645"/>
<use href="#mr" x="2175.2" y="1646"/>
<use href="#mr" x="2197.1" y="1647"/>
<use href="#mr" x="2219" y="1506.6"/>
</g>
<g id="s-maroon">
<path d="M248 1285C248 1285 248 1285 251.7 1290.5C255.3 1295.9 262.6 1306.8 269.9 1318.8C277.2 1330.7 284.5 1343.7 291.8 1354.5C299.1 1365.4 306.4 1374.1 313.7 1383.1C321 1392.1 328.3 1401.4 335.6 1409.1C342.9 1416.9 350.2 1423.1 357.5 1427.6C364.8 1432.1 372.1 1434.9 379.4 1438.9C386.7 1443 394 1448.2 401.3 1453.4C408.6 1458.5 415.9 1463.4 423.2 1467.9C430.5 1472.4 437.8 1476.5 445.1 1480.2C452.4 1484 459.7 1487.5 467 1491C474.3 1494.5 481.6 1498 488.9 1501.3C496.2 1504.6 503.5 1507.6 510.8 1510.6C518.1 1513.6 525.4 1516.6 532.7 1519C540 1521.5 547.3 1523.6 554.6 1525.6C561.9 1527.6 569.2 1529.5 576.5 1531.2C583.8 1532.9 591.1 1534.2 598.4 1535.8C605.7 1537.3 613 1539.1 620.3 1540.4C627.6 1541.7 634.9 1542.7 642.2 1543.8C649.5 1544.9 656.8 1546.2 664.1 1547.2C671.4 1548.3 678.7 1549 686 1549.7C693.3 1550.4 700.6 1551 707.9 1551.4C715.2 1551.9 722.5 1552.1 729.8 1552.5C737.1 1552.8 744.4 1553.1 751.7 1553.5C759 1553.8 766.3 1554.1 773.6 1554.4C780.9 1554.7 788.2 1555.1 795.5 1555.2C802.8 1555.4 810.1 1555.5 817.4 1555.1C824.7 1554.7 832 1553.8 839.3 1553.2C846.6 1552.7 853.9 1552.3 861.2 1552C868.5 1551.7 875.8 1551.3 883.1 1551C890.4 1550.6 897.7 1550.3 905 1549.8C912.3 1549.3 919.6 1548.6 926.9 1547.9C934.2 1547.3 941.5 1546.5 948.8 1545.7C956.1 1544.9 963.4 1543.9 970.7 1543C978 1542 985.3 1541 992.6 1539.4C999.9 1537.7 1007.2 1535.4 1014.5 1531.9C1021.8 1528.3 1029.1 1523.6 1036.4 1520C1043.7 1516.4 1051 1514.1 1058.3 1511.2C1065.6 1508.4 1072.9 1505.2 1080.2 1501.9C1087.5 1498.7 1094.8 1495.4 1102.1 1491.7C1109.4 1487.9 1116.7 1483.5 1124 1479C1131.3 1474.4 1138.6 1469.6 1145.9 1464.5C1153.2 1459.4 1160.5 1453.9 1167.8 1448.6C1175.1 1443.2 1182.4 1438 1189.7 1432.4C1197 1426.8 1204.3 1420.9 1211.6 1414.8C1218.9 1408.7 1226.2 1402.3 1233.5 1396C1240.8 1389.6 1248.1 1383.1 1255.4 1375.9C1262.7 1368.7 1270 1360.6 1277.3 1352.4C1284.6 1344.1 1291.9 1335.6 1299.2 1327.1C1306.5 1318.5 1313.8 1310 1321.1 1301.7C1328.4 1293.3 1335.7 1285.3 1343 1277.7C1350.3 1270.1 1357.6 1262.9 1364.9 1256.7C1372.2 1250.4 1379.5 1245 1386.8 1240.5C1394.1 1236 1401.4 1232.4 1408.7 1229.7C1416 1227 1423.3 1225.1 1430.6 1223.2C1437.9 1221.2 1445.2 1219.2 1452.5 1216.1C1459.8 1213.1 1467.1 1209.2 1474.4 1204.5C1481.7 1199.7 1489 1194.3 1496.3 1188.3C1503.6 1182.3 1510.9 1175.8 1518.2 1168.8C1525.5 1161.9 1532.8 1154.4 1540.1 1147.5C1547.4 1140.7 1554.7 1134.3 1562 1129.4C1569.3 1124.4 1576.6 1120.8 1583.9 1119.5C1591.2 1118.3 1598.5 1119.3 1605.8 1123.3C1613.1 1127.2 1620.4 1134 1627.7 1145.1C1635 1156.2 1642.3 1171.6 1649.6 1192.2C1656.9 1212.9 1664.2 1238.7 1671.5 1266.8C1678.8 1294.8 1686.1 1325.1 1693.4 1354C1700.7 1383 1708 1410.8 1715.3 1435C1722.6 1459.2 1729.9 1479.8 1737.2 1497.2C1744.5 1514.6 1751.8 1528.6 1759.1 1540C1766.4 1551.3 1773.7 1559.8 1781 1567C1788.3 1574.3 1795.6 1580.1 1802.9 1584.6C1810.2 1589.1 1817.5 1592.2 1824.8 1595C1832.1 1597.8 1839.4 1600.3 1846.7 1602.5C1854 1604.7 1861.3 1606.5 1868.6 1608.2C1875.9 1609.9 1883.2 1611.5 1890.5 1612.9C1897.8 1614.2 1905.1 1615.5 1912.4 1616.5C1919.7 1617.6 1927 1618.6 1934.3 1619.4C1941.6 1620.1 1948.9 1620.8 1956.2 1620.5C1963.5 1620.2 1970.8 1618.9 1978.1 1618.8C1985.4 1618.6 1992.7 1619.4 2000 1620.3C2007.3 1621.2 2014.6 1622.1 2021.9 1623C2029.2 1624 2036.5 1625 2043.8 1626.1C2051.1 1627.2 2058.4 1628.5 2065.7 1629.3C2073 1630.1 2080.3 1630.6 2087.6 1631C2094.9 1631.3 2102.2 1631.7 2109.5 1632C2116.8 1632.4 2124.1 1632.9 2131.4 1633.3C2138.7 1633.7 2146 1634.1 2153.3 1634.5C2160.6 1635 2167.9 1635.5 2175.2 1635.9C2182.5 1636.3 2189.8 1636.7 2197.1 1614C2204.4 1591.3 2211.7 1545.7 2215.3 1522.8C2219 1500 2219 1500 2219 1500" fill="none" stroke="#800000" stroke-width="6.6" stroke-linejoin="round" stroke-linecap="round"/>
<use href="#mn" x="248" y="1285"/>
<use href="#mn" x="269.9" y="1317.7"/>
<use href="#mn" x="291.8" y="1356.7"/>
<use href="#mn" x="313.7" y="1382.8"/>
<use href="#mn" x="335.6" y="1410.7"/>
<use href="#mn" x="357.5" y="1429.3"/>
<use href="#mn" x="379.4" y="1437.7"/>
<use href="#mn" x="401.3" y="1453.5"/>
<use href="#mn" x="423.2" y="1468.4"/>
<use href="#mn" x="445.1" y="1480.5"/>
<use href="#mn" x="467" y="1491"/>
<use href="#mn" x="488.9" y="1501.5"/>
<use href="#mn" x="510.8" y="1510.7"/>
<use href="#mn" x="532.7" y="1519.5"/>
<use href="#mn" x="554.6" y="1525.6"/>
<use href="#mn" x="576.5" y="1531.5"/>
<use href="#mn" x="598.4" y="1535.6"/>
<use href="#mn" x="620.3" y="1540.8"/>
<use href="#mn" x="642.2" y="1543.6"/>
<use href="#mn" x="664.1" y="1547.5"/>
<use href="#mn" x="686" y="1549.8"/>
<use href="#mn" x="707.9" y="1551.6"/>
<use href="#mn" x="729.8" y="1552.4"/>
<use href="#mn" x="751.7" y="1553.5"/>
<use href="#mn" x="773.6" y="1554.4"/>
<use href="#mn" x="795.5" y="1555.4"/>
<use href="#mn" x="817.4" y="1555.5"/>
<use href="#mn" x="839.3" y="1553"/>
<use href="#mn" x="861.2" y="1552"/>
<use href="#mn" x="883.1" y="1551"/>
<use href="#mn" x="905" y="1549.9"/>
<use href="#mn" x="926.9" y="1548"/>
<use href="#mn" x="948.8" y="1545.8"/>
<use href="#mn" x="970.7" y="1543"/>
<use href="#mn" x="992.6" y="1540"/>
<use href="#mn" x="1014.5" y="1533.1"/>
<use href="#mn" x="1036.4" y="1518.8"/>
<use href="#mn" x="1058.3" y="1511.7"/>
<use href="#mn" x="1080.2" y="1501.9"/>
<use href="#mn" x="1102.1" y="1492.2"/>
<use href="#mn" x="1124" y="1479.2"/>
<use href="#mn" x="1145.9" y="1464.8"/>
<use href="#mn" x="1167.8" y="1448.5"/>
<use href="#mn" x="1189.7" y="1432.7"/>
<use href="#mn" x="1211.6" y="1415"/>
<use href="#mn" x="1233.5" y="1396"/>
<use href="#mn" x="1255.4" y="1376.7"/>
<use href="#mn" x="1277.3" y="1352.6"/>
<use href="#mn" x="1299.2" y="1327.1"/>
<use href="#mn" x="1321.1" y="1301.4"/>
<use href="#mn" x="1343" y="1277.2"/>
<use href="#mn" x="1364.9" y="1255.8"/>
<use href="#mn" x="1386.8" y="1239.6"/>
<use href="#mn" x="1408.7" y="1228.8"/>
<use href="#mn" x="1430.6" y="1223.3"/>
<use href="#mn" x="1452.5" y="1217.1"/>
<use href="#mn" x="1474.4" y="1205.2"/>
<use href="#mn" x="1496.3" y="1188.8"/>
<use href="#mn" x="1518.2" y="1169.3"/>
<use href="#mn" x="1540.1" y="1147"/>
<use href="#mn" x="1562" y="1128"/>
<use href="#mn" x="1583.9" y="1117.2"/>
<use href="#mn" x="1605.8" y="1120.4"/>
<use href="#mn" x="1627.7" y="1140.8"/>
<use href="#mn" x="1649.6" y="1187"/>
<use href="#mn" x="1671.5" y="1264.6"/>
<use href="#mn" x="1693.4" y="1355.3"/>
<use href="#mn" x="1715.3" y="1438.5"/>
<use href="#mn" x="1737.2" y="1500.5"/>
<use href="#mn" x="1759.1" y="1542.7"/>
<use href="#mn" x="1781" y="1568.4"/>
<use href="#mn" x="1802.9" y="1586"/>
<use href="#mn" x="1824.8" y="1595.3"/>
<use href="#mn" x="1846.7" y="1602.8"/>
<use href="#mn" x="1868.6" y="1608.4"/>
<use href="#mn" x="1890.5" y="1613"/>
<use href="#mn" x="1912.4" y="1616.7"/>
<use href="#mn" x="1934.3" y="1619.5"/>
<use href="#mn" x="1956.2" y="1621.4"/>
<use href="#mn" x="1978.1" y="1617.7"/>
<use href="#mn" x="2000" y="1620.3"/>
<use href="#mn" x="2021.9" y="1623"/>
<use href="#mn" x="2043.8" y="1626"/>
<use href="#mn" x="2065.7" y="1629.7"/>
<use href="#mn" x="2087.6" y="1631"/>
<use href="#mn" x="2109.5" y="1632"/>
<use href="#mn" x="2131.4" y="1633.3"/>
<use href="#mn" x="2153.3" y="1634.5"/>
<use href="#mn" x="2175.2" y="1636"/>
<use href="#mn" x="2197.1" y="1637"/>
<use href="#mn" x="2219" y="1500"/>
</g>
<g id="s-blue">
<path d="M248 1269.3C248 1269.3 248 1269.3 251.7 1276.8C255.3 1284.2 262.6 1299.2 269.9 1312.6C277.2 1326.1 284.5 1338.2 291.8 1349C299.1 1359.8 306.4 1369.3 313.7 1378C321 1386.6 328.3 1394.3 335.6 1402.4C342.9 1410.4 350.2 1418.9 357.5 1424.2C364.8 1429.6 372.1 1431.8 379.4 1435.6C386.7 1439.4 394 1444.8 401.3 1449.9C408.6 1455.1 415.9 1460 423.2 1464.7C430.5 1469.3 437.8 1473.7 445.1 1477.8C452.4 1481.8 459.7 1485.7 467 1489.3C474.3 1493 481.6 1496.5 488.9 1499.8C496.2 1503.1 503.5 1506.1 510.8 1509.1C518.1 1512.1 525.4 1515.1 532.7 1517.5C540 1520 547.3 1522.1 554.6 1524.1C561.9 1526.1 569.2 1528 576.5 1529.7C583.8 1531.4 591.1 1532.7 598.4 1534.3C605.7 1535.8 613 1537.6 620.3 1538.9C627.6 1540.2 634.9 1541.2 642.2 1542.3C649.5 1543.4 656.8 1544.7 664.1 1545.7C671.4 1546.8 678.7 1547.5 686 1548.2C693.3 1548.9 700.6 1549.5 707.9 1549.9C715.2 1550.4 722.5 1550.6 729.8 1551C737.1 1551.3 744.4 1551.6 751.7 1552C759 1552.3 766.3 1552.6 773.6 1552.9C780.9 1553.2 788.2 1553.6 795.5 1553.8C802.8 1553.9 810.1 1554 817.4 1553.9C824.7 1553.8 832 1553.6 839.3 1553.2C846.6 1552.8 853.9 1552.1 861.2 1551.6C868.5 1551 875.8 1550.5 883.1 1550.1C890.4 1549.7 897.7 1549.4 905 1549.1C912.3 1548.8 919.6 1548.5 926.9 1547.7C934.2 1547 941.5 1545.7 948.8 1544.6C956.1 1543.6 963.4 1542.6 970.7 1541.5C978 1540.3 985.3 1538.8 992.6 1537.2C999.9 1535.7 1007.2 1533.9 1014.5 1530.6C1021.8 1527.3 1029.1 1522.4 1036.4 1518.8C1043.7 1515.2 1051 1512.9 1058.3 1510.4C1065.6 1507.9 1072.9 1505.3 1080.2 1502.4C1087.5 1499.5 1094.8 1496.4 1102.1 1493C1109.4 1489.6 1116.7 1485.8 1124 1481.8C1131.3 1477.8 1138.6 1473.4 1145.9 1469.1C1153.2 1464.8 1160.5 1460.4 1167.8 1456.1C1175.1 1451.7 1182.4 1447.3 1189.7 1442.6C1197 1437.9 1204.3 1433 1211.6 1427.8C1218.9 1422.7 1226.2 1417.3 1233.5 1412C1240.8 1406.7 1248.1 1401.3 1255.4 1395.8C1262.7 1390.3 1270 1384.7 1277.3 1378.6C1284.6 1372.5 1291.9 1366.1 1299.2 1359.7C1306.5 1353.3 1313.8 1347 1321.1 1340.8C1328.4 1334.6 1335.7 1328.5 1343 1323.1C1350.3 1317.8 1357.6 1313.1 1364.9 1308.8C1372.2 1304.6 1379.5 1300.6 1386.8 1297.4C1394.1 1294.1 1401.4 1291.4 1408.7 1289.3C1416 1287.2 1423.3 1285.6 1430.6 1283.9C1437.9 1282.3 1445.2 1280.5 1452.5 1278.5C1459.8 1276.5 1467.1 1274.3 1474.4 1271.5C1481.7 1268.8 1489 1265.5 1496.3 1262.3C1503.6 1259 1510.9 1255.8 1518.2 1252.5C1525.5 1249.3 1532.8 1246.2 1540.1 1243.3C1547.4 1240.5 1554.7 1238 1562 1236.9C1569.3 1235.8 1576.6 1236.2 1583.9 1237.5C1591.2 1238.8 1598.5 1241 1605.8 1246.6C1613.1 1252.1 1620.4 1261 1627.7 1272.1C1635 1283.2 1642.3 1296.7 1649.6 1312.9C1656.9 1329.2 1664.2 1348.3 1671.5 1368.5C1678.8 1388.7 1686.1 1409.9 1693.4 1430.2C1700.7 1450.4 1708 1469.7 1715.3 1486.6C1722.6 1503.5 1729.9 1518 1737.2 1530C1744.5 1542 1751.8 1551.5 1759.1 1559.4C1766.4 1567.3 1773.7 1573.6 1781 1578.9C1788.3 1584.2 1795.6 1588.4 1802.9 1592.1C1810.2 1595.9 1817.5 1599.1 1824.8 1602.1C1832.1 1605 1839.4 1607.6 1846.7 1609.6C1854 1611.6 1861.3 1613.1 1868.6 1614.6C1875.9 1616.1 1883.2 1617.6 1890.5 1618.9C1897.8 1620.2 1905.1 1621.1 1912.4 1622.2C1919.7 1623.3 1927 1624.6 1934.3 1625.3C1941.6 1626.1 1948.9 1626.5 1956.2 1625.9C1963.5 1625.2 1970.8 1623.7 1978.1 1622.9C1985.4 1622 1992.7 1622 2000 1622.5C2007.3 1623 2014.6 1624 2021.9 1625.1C2029.2 1626.1 2036.5 1627.2 2043.8 1628.2C2051.1 1629.2 2058.4 1630.3 2065.7 1631.1C2073 1632 2080.3 1632.6 2087.6 1633.1C2094.9 1633.7 2102.2 1634 2109.5 1634.4C2116.8 1634.7 2124.1 1634.9 2131.4 1635.2C2138.7 1635.5 2146 1635.9 2153.3 1636.4C2160.6 1636.9 2167.9 1637.6 2175.2 1638.1C2182.5 1638.6 2189.8 1638.8 2197.1 1615.7C2204.4 1592.5 2211.7 1545.9 2215.3 1522.6C2219 1499.3 2219 1499.3 2219 1499.3" fill="none" stroke="#0000ff" stroke-width="7.0" stroke-linejoin="round" stroke-linecap="round"/>
<use href="#mb" x="248" y="1269.3"/>
<use href="#mb" x="269.9" y="1314.1"/>
<use href="#mb" x="291.8" y="1350.2"/>
<use href="#mb" x="313.7" y="1378.9"/>
<use href="#mb" x="335.6" y="1402"/>
<use href="#mb" x="357.5" y="1427.3"/>
<use href="#mb" x="379.4" y="1434.1"/>
<use href="#mb" x="401.3" y="1450.1"/>
<use href="#mb" x="423.2" y="1465"/>
<use href="#mb" x="445.1" y="1478"/>
<use href="#mb" x="467" y="1489.5"/>
<use href="#mb" x="488.9" y="1500"/>
<use href="#mb" x="510.8" y="1509.2"/>
<use href="#mb" x="532.7" y="1518"/>
<use href="#mb" x="554.6" y="1524.1"/>
<use href="#mb" x="576.5" y="1530"/>
<use href="#mb" x="598.4" y="1534.1"/>
<use href="#mb" x="620.3" y="1539.3"/>
<use href="#mb" x="642.2" y="1542.1"/>
<use href="#mb" x="664.1" y="1546"/>
<use href="#mb" x="686" y="1548.3"/>
<use href="#mb" x="707.9" y="1550.1"/>
<use href="#mb" x="729.8" y="1550.9"/>
<use href="#mb" x="751.7" y="1552"/>
<use href="#mb" x="773.6" y="1552.9"/>
<use href="#mb" x="795.5" y="1553.9"/>
<use href="#mb" x="817.4" y="1554"/>
<use href="#mb" x="839.3" y="1553.4"/>
<use href="#mb" x="861.2" y="1551.5"/>
<use href="#mb" x="883.1" y="1550"/>
<use href="#mb" x="905" y="1549.1"/>
<use href="#mb" x="926.9" y="1548.2"/>
<use href="#mb" x="948.8" y="1544.5"/>
<use href="#mb" x="970.7" y="1541.7"/>
<use href="#mb" x="992.6" y="1537.4"/>
<use href="#mb" x="1014.5" y="1532.2"/>
<use href="#mb" x="1036.4" y="1517.5"/>
<use href="#mb" x="1058.3" y="1510.6"/>
<use href="#mb" x="1080.2" y="1502.6"/>
<use href="#mb" x="1102.1" y="1493.3"/>
<use href="#mb" x="1124" y="1482.1"/>
<use href="#mb" x="1145.9" y="1469.1"/>
<use href="#mb" x="1167.8" y="1456.1"/>
<use href="#mb" x="1189.7" y="1442.9"/>
<use href="#mb" x="1211.6" y="1428"/>
<use href="#mb" x="1233.5" y="1412"/>
<use href="#mb" x="1255.4" y="1396"/>
<use href="#mb" x="1277.3" y="1379"/>
<use href="#mb" x="1299.2" y="1359.6"/>
<use href="#mb" x="1321.1" y="1340.7"/>
<use href="#mb" x="1343" y="1322.4"/>
<use href="#mb" x="1364.9" y="1308.5"/>
<use href="#mb" x="1386.8" y="1296.7"/>
<use href="#mb" x="1408.7" y="1288.8"/>
<use href="#mb" x="1430.6" y="1284"/>
<use href="#mb" x="1452.5" y="1278.8"/>
<use href="#mb" x="1474.4" y="1272"/>
<use href="#mb" x="1496.3" y="1262.3"/>
<use href="#mb" x="1518.2" y="1252.5"/>
<use href="#mb" x="1540.1" y="1243"/>
<use href="#mb" x="1562" y="1235.5"/>
<use href="#mb" x="1583.9" y="1236.5"/>
<use href="#mb" x="1605.8" y="1243.3"/>
<use href="#mb" x="1627.7" y="1269.8"/>
<use href="#mb" x="1649.6" y="1310.1"/>
<use href="#mb" x="1671.5" y="1367.4"/>
<use href="#mb" x="1693.4" y="1431.2"/>
<use href="#mb" x="1715.3" y="1488.9"/>
<use href="#mb" x="1737.2" y="1532.6"/>
<use href="#mb" x="1759.1" y="1560.9"/>
<use href="#mb" x="1781" y="1580"/>
<use href="#mb" x="1802.9" y="1592.6"/>
<use href="#mb" x="1824.8" y="1602.4"/>
<use href="#mb" x="1846.7" y="1610.2"/>
<use href="#mb" x="1868.6" y="1614.5"/>
<use href="#mb" x="1890.5" y="1619.2"/>
<use href="#mb" x="1912.4" y="1622.1"/>
<use href="#mb" x="1934.3" y="1625.8"/>
<use href="#mb" x="1956.2" y="1626.8"/>
<use href="#mb" x="1978.1" y="1622.1"/>
<use href="#mb" x="2000" y="1621.9"/>
<use href="#mb" x="2021.9" y="1625.1"/>
<use href="#mb" x="2043.8" y="1628.2"/>
<use href="#mb" x="2065.7" y="1631.3"/>
<use href="#mb" x="2087.6" y="1633.3"/>
<use href="#mb" x="2109.5" y="1634.4"/>
<use href="#mb" x="2131.4" y="1635.2"/>
<use href="#mb" x="2153.3" y="1636.2"/>
<use href="#mb" x="2175.2" y="1638.3"/>
<use href="#mb" x="2197.1" y="1639.1"/>
<use href="#mb" x="2219" y="1499.3"/>
</g>
<g id="dots" shape-rendering="crispEdges">
<path fill="#0000ff" d="M1101 1492.5h2.2v1.2h-2.2zM1122.9 1475.1h2.2v1.2h-2.2zM1144.8 1455.3h2.2v1.2h-2.2zM1166.7 1432.4h2.2v1.2h-2.2zM1188.6 1408.6h2.2v1.2h-2.2zM1210.5 1380.6h2.2v1.2h-2.2zM1232.4 1348.7h2.2v1.2h-2.2zM1254.3 1313.3h2.2v1.2h-2.2zM1276.2 1268.5h2.2v1.2h-2.2zM1298.1 1215.8h2.2v1.2h-2.2zM1320 1158.2h2.2v1.2h-2.2zM1341.9 1099.4h2.2v1.2h-2.2zM1363.8 1047h2.2v1.2h-2.2zM1385.7 1008.1h2.2v1.2h-2.2zM1407.6 990.7h2.2v1.2h-2.2zM1429.5 985.8h2.2v1.2h-2.2zM1451.4 979.5h2.2v1.2h-2.2zM1473.3 960.4h2.2v1.2h-2.2zM1495.2 920h2.2v1.2h-2.2zM1517.1 859.6h2.2v1.2h-2.2zM1539 783.5h2.2v1.2h-2.2zM1560.9 703.1h2.2v1.2h-2.2zM1582.8 632.4h2.2v1.2h-2.2zM1604.7 583.6h2.2v1.2h-2.2zM1626.6 571.4h2.2v1.2h-2.2zM1648.5 637.1h2.2v1.2h-2.2zM1670.4 800.2h2.2v1.2h-2.2zM1692.3 1015.5h2.2v1.2h-2.2zM1714.2 1219.6h2.2v1.2h-2.2zM1736.1 1372.5h2.2v1.2h-2.2zM1758 1470.5h2.2v1.2h-2.2zM1779.9 1528.9h2.2v1.2h-2.2zM1801.8 1565.4h2.2v1.2h-2.2z"/>
<path fill="#008080" d="M1100.9 1494.8h2.4v1.6h-2.4zM1122.8 1477.8h2.4v1.6h-2.4zM1144.7 1458.7h2.4v1.6h-2.4zM1166.6 1436.7h2.4v1.6h-2.4zM1188.5 1413.8h2.4v1.6h-2.4zM1210.4 1386h2.4v1.6h-2.4zM1232.3 1354.6h2.4v1.6h-2.4zM1254.2 1320.6h2.4v1.6h-2.4zM1276.1 1277.5h2.4v1.6h-2.4zM1298 1227.1h2.4v1.6h-2.4zM1319.9 1172.1h2.4v1.6h-2.4zM1341.8 1116.2h2.4v1.6h-2.4zM1363.7 1066.4h2.4v1.6h-2.4zM1385.6 1028.8h2.4v1.6h-2.4zM1407.5 1012h2.4v1.6h-2.4zM1429.4 1006.9h2.4v1.6h-2.4zM1451.3 1000.4h2.4v1.6h-2.4zM1473.2 982.2h2.4v1.6h-2.4zM1495.1 943.2h2.4v1.6h-2.4zM1517 885.6h2.4v1.6h-2.4zM1538.9 813.4h2.4v1.6h-2.4zM1560.8 737.4h2.4v1.6h-2.4zM1582.7 671h2.4v1.6h-2.4zM1604.6 625.6h2.4v1.6h-2.4zM1626.5 615.8h2.4v1.6h-2.4zM1648.4 679.9h2.4v1.6h-2.4zM1670.3 836.5h2.4v1.6h-2.4zM1692.2 1042.2h2.4v1.6h-2.4zM1714.1 1237.1h2.4v1.6h-2.4zM1736 1383.1h2.4v1.6h-2.4zM1757.9 1476.7h2.4v1.6h-2.4zM1779.8 1532.7h2.4v1.6h-2.4zM1801.7 1567.8h2.4v1.6h-2.4z"/>
<path fill="#ff00ff" d="M1101 1505.2h2.2v1.2h-2.2zM1122.9 1490.1h2.2v1.2h-2.2zM1144.8 1473.7h2.2v1.2h-2.2zM1166.7 1455.4h2.2v1.2h-2.2zM1188.6 1436.3h2.2v1.2h-2.2zM1210.5 1409.6h2.2v1.2h-2.2zM1232.4 1380.3h2.2v1.2h-2.2zM1254.3 1352.4h2.2v1.2h-2.2zM1276.2 1316.1h2.2v1.2h-2.2zM1298.1 1275.4h2.2v1.2h-2.2zM1320 1231.4h2.2v1.2h-2.2zM1341.9 1187.1h2.2v1.2h-2.2zM1363.8 1148.2h2.2v1.2h-2.2zM1385.7 1115.7h2.2v1.2h-2.2zM1407.6 1101.4h2.2v1.2h-2.2zM1429.5 1095.9h2.2v1.2h-2.2zM1451.4 1088.6h2.2v1.2h-2.2zM1473.3 1074h2.2v1.2h-2.2zM1495.2 1041.1h2.2v1.2h-2.2zM1517.1 995.3h2.2v1.2h-2.2zM1539 939.3h2.2v1.2h-2.2zM1560.9 881.1h2.2v1.2h-2.2zM1582.8 833h2.2v1.2h-2.2zM1604.7 801.9h2.2v1.2h-2.2zM1626.6 801.9h2.2v1.2h-2.2zM1648.5 859.2h2.2v1.2h-2.2zM1670.4 988.6h2.2v1.2h-2.2zM1692.3 1154.5h2.2v1.2h-2.2zM1714.2 1311.3h2.2v1.2h-2.2zM1736.1 1428.5h2.2v1.2h-2.2zM1758 1503.9h2.2v1.2h-2.2zM1779.9 1549.7h2.2v1.2h-2.2zM1801.8 1579h2.2v1.2h-2.2z"/>
<path fill="#000080" d="M1100.9 1504.2h2.4v1.6h-2.4zM1122.8 1489.7h2.4v1.6h-2.4zM1144.7 1474h2.4v1.6h-2.4zM1166.6 1456.6h2.4v1.6h-2.4zM1188.5 1438.5h2.4v1.6h-2.4zM1210.4 1413.4h2.4v1.6h-2.4zM1232.3 1385.9h2.4v1.6h-2.4zM1254.2 1360.2h2.4v1.6h-2.4zM1276.1 1326.7h2.4v1.6h-2.4zM1298 1289.7h2.4v1.6h-2.4zM1319.9 1250.1h2.4v1.6h-2.4zM1341.8 1210.5h2.4v1.6h-2.4zM1363.7 1175.8h2.4v1.6h-2.4zM1385.6 1146.6h2.4v1.6h-2.4zM1407.5 1133.2h2.4v1.6h-2.4zM1429.4 1127.6h2.4v1.6h-2.4zM1451.3 1120.4h2.4v1.6h-2.4zM1473.2 1106.7h2.4v1.6h-2.4zM1495.1 1077.1h2.4v1.6h-2.4zM1517 1037.1h2.4v1.6h-2.4zM1538.9 988.6h2.4v1.6h-2.4zM1560.8 939h2.4v1.6h-2.4zM1582.7 899.2h2.4v1.6h-2.4zM1604.6 875.4h2.4v1.6h-2.4zM1626.5 879.9h2.4v1.6h-2.4zM1648.4 934.5h2.4v1.6h-2.4zM1670.3 1052.1h2.4v1.6h-2.4zM1692.2 1200.8h2.4v1.6h-2.4zM1714.1 1340.9h2.4v1.6h-2.4zM1736 1445.6h2.4v1.6h-2.4zM1757.9 1513.3h2.4v1.6h-2.4zM1779.8 1554.6h2.4v1.6h-2.4zM1801.7 1581.3h2.4v1.6h-2.4z"/>
<path fill="#800000" d="M1101 1501.4h2.2v1.2h-2.2zM1122.9 1487.3h2.2v1.2h-2.2zM1144.8 1471.9h2.2v1.2h-2.2zM1166.7 1454.7h2.2v1.2h-2.2zM1188.6 1437.2h2.2v1.2h-2.2zM1210.5 1413.8h2.2v1.2h-2.2zM1232.4 1388.3h2.2v1.2h-2.2zM1254.3 1364h2.2v1.2h-2.2zM1276.2 1332.7h2.2v1.2h-2.2zM1298.1 1298.4h2.2v1.2h-2.2zM1320 1262h2.2v1.2h-2.2zM1341.9 1225.9h2.2v1.2h-2.2zM1363.8 1194.4h2.2v1.2h-2.2zM1385.7 1168.1h2.2v1.2h-2.2zM1407.6 1155.3h2.2v1.2h-2.2zM1429.5 1149.7h2.2v1.2h-2.2zM1451.4 1142.8h2.2v1.2h-2.2zM1473.3 1129.5h2.2v1.2h-2.2zM1495.2 1103h2.2v1.2h-2.2zM1517.1 1067.7h2.2v1.2h-2.2zM1539 1025.2h2.2v1.2h-2.2zM1560.9 982.7h2.2v1.2h-2.2zM1582.8 949.6h2.2v1.2h-2.2zM1604.7 932.1h2.2v1.2h-2.2zM1626.6 940.2h2.2v1.2h-2.2zM1648.5 992.9h2.2v1.2h-2.2zM1670.4 1101.3h2.2v1.2h-2.2zM1692.3 1236.6h2.2v1.2h-2.2zM1714.2 1363.5h2.2v1.2h-2.2zM1736.1 1458.3h2.2v1.2h-2.2zM1758 1520.1h2.2v1.2h-2.2zM1779.9 1557.8h2.2v1.2h-2.2zM1801.8 1582.4h2.2v1.2h-2.2z"/>
<path fill="#ff1493" d="M1101 1498h2.2v1.6h-2.2zM1122.9 1484.2h2.2v1.6h-2.2zM1144.8 1469.1h2.2v1.6h-2.2zM1166.7 1452.2h2.2v1.6h-2.2zM1188.6 1435.3h2.2v1.6h-2.2zM1210.5 1413.8h2.2v1.6h-2.2zM1232.4 1390.4h2.2v1.6h-2.2zM1254.3 1367.9h2.2v1.6h-2.2zM1276.2 1338.9h2.2v1.6h-2.2zM1298.1 1307.6h2.2v1.6h-2.2zM1320 1274.7h2.2v1.6h-2.2zM1341.9 1242.6h2.2v1.6h-2.2zM1363.8 1214.4h2.2v1.6h-2.2zM1385.7 1191.5h2.2v1.6h-2.2zM1407.6 1179.4h2.2v1.6h-2.2zM1429.5 1173.9h2.2v1.6h-2.2zM1451.4 1167.1h2.2v1.6h-2.2zM1473.3 1154.3h2.2v1.6h-2.2zM1495.2 1131.2h2.2v1.6h-2.2zM1517.1 1101.2h2.2v1.6h-2.2zM1539 1065.4h2.2v1.6h-2.2zM1560.9 1030.7h2.2v1.6h-2.2zM1582.8 1005.1h2.2v1.6h-2.2zM1604.7 994.4h2.2v1.6h-2.2zM1626.6 1006.7h2.2v1.6h-2.2zM1648.5 1057.2h2.2v1.6h-2.2zM1670.4 1155.3h2.2v1.6h-2.2zM1692.3 1275.7h2.2v1.6h-2.2zM1714.2 1388.1h2.2v1.6h-2.2zM1736.1 1472h2.2v1.6h-2.2zM1758 1527.3h2.2v1.6h-2.2zM1779.9 1560.9h2.2v1.6h-2.2zM1801.8 1583.2h2.2v1.6h-2.2z"/>
<path fill="#008000" d="M1100.9 1495.7h2.4v1.6h-2.4zM1122.8 1482.2h2.4v1.6h-2.4zM1144.7 1467.4h2.4v1.6h-2.4zM1166.6 1450.7h2.4v1.6h-2.4zM1188.5 1434.1h2.4v1.6h-2.4zM1210.4 1413.9h2.4v1.6h-2.4zM1232.3 1392.1h2.4v1.6h-2.4zM1254.2 1370.6h2.4v1.6h-2.4zM1276.1 1343.3h2.4v1.6h-2.4zM1298 1314h2.4v1.6h-2.4zM1319.9 1283.6h2.4v1.6h-2.4zM1341.8 1254.2h2.4v1.6h-2.4zM1363.7 1228.3h2.4v1.6h-2.4zM1385.6 1207.7h2.4v1.6h-2.4zM1407.5 1196h2.4v1.6h-2.4zM1429.4 1190.5h2.4v1.6h-2.4zM1451.3 1184h2.4v1.6h-2.4zM1473.2 1171.5h2.4v1.6h-2.4zM1495.1 1150.7h2.4v1.6h-2.4zM1517 1124.2h2.4v1.6h-2.4zM1538.9 1093.1h2.4v1.6h-2.4zM1560.8 1063.8h2.4v1.6h-2.4zM1582.7 1043.2h2.4v1.6h-2.4zM1604.6 1037.3h2.4v1.6h-2.4zM1626.5 1052.4h2.4v1.6h-2.4zM1648.4 1101.4h2.4v1.6h-2.4zM1670.3 1192.5h2.4v1.6h-2.4zM1692.2 1302.7h2.4v1.6h-2.4zM1714.1 1405.1h2.4v1.6h-2.4zM1736 1481.5h2.4v1.6h-2.4zM1757.9 1532.3h2.4v1.6h-2.4zM1779.8 1563.2h2.4v1.6h-2.4zM1801.7 1583.9h2.4v1.6h-2.4z"/>
<path fill="#000080" d="M1101 1493.1h2.2v1.4h-2.2zM1122.9 1479.9h2.2v1.4h-2.2zM1144.8 1465.3h2.2v1.4h-2.2zM1166.7 1448.9h2.2v1.4h-2.2zM1188.6 1432.8h2.2v1.4h-2.2zM1210.5 1414.2h2.2v1.4h-2.2zM1232.4 1394.2h2.2v1.4h-2.2zM1254.3 1374.1h2.2v1.4h-2.2zM1276.2 1348.9h2.2v1.4h-2.2zM1298.1 1322h2.2v1.4h-2.2zM1320 1294.6h2.2v1.4h-2.2zM1341.9 1268.5h2.2v1.4h-2.2zM1363.8 1245.5h2.2v1.4h-2.2zM1385.7 1227.7h2.2v1.4h-2.2zM1407.6 1216.6h2.2v1.4h-2.2zM1429.5 1211.1h2.2v1.4h-2.2zM1451.4 1204.8h2.2v1.4h-2.2zM1473.3 1192.7h2.2v1.4h-2.2zM1495.2 1174.7h2.2v1.4h-2.2zM1517.1 1152.7h2.2v1.4h-2.2zM1539 1127.2h2.2v1.4h-2.2zM1560.9 1104.5h2.2v1.4h-2.2zM1582.8 1090.2h2.2v1.4h-2.2zM1604.7 1090.2h2.2v1.4h-2.2zM1626.6 1108.6h2.2v1.4h-2.2zM1648.5 1155.8h2.2v1.4h-2.2zM1670.4 1238.3h2.2v1.4h-2.2zM1692.3 1336h2.2v1.4h-2.2zM1714.2 1426.1h2.2v1.4h-2.2zM1736.1 1493.3h2.2v1.4h-2.2zM1758 1538.5h2.2v1.4h-2.2zM1779.9 1566.1h2.2v1.4h-2.2zM1801.8 1584.8h2.2v1.4h-2.2z"/>
<path fill="#800080" d="M1101 1492h2.2v1.4h-2.2zM1122.9 1479.7h2.2v1.4h-2.2zM1144.8 1465.9h2.2v1.4h-2.2zM1166.7 1450.9h2.2v1.4h-2.2zM1188.6 1436.2h2.2v1.4h-2.2zM1210.5 1419.6h2.2v1.4h-2.2zM1232.4 1401.9h2.2v1.4h-2.2zM1254.3 1383.9h2.2v1.4h-2.2zM1276.2 1362.7h2.2v1.4h-2.2zM1298.1 1339.7h2.2v1.4h-2.2zM1320 1316.8h2.2v1.4h-2.2zM1341.9 1295h2.2v1.4h-2.2zM1363.8 1276.7h2.2v1.4h-2.2zM1385.7 1262.3h2.2v1.4h-2.2zM1407.6 1252.7h2.2v1.4h-2.2zM1429.5 1247.5h2.2v1.4h-2.2zM1451.4 1241.7h2.2v1.4h-2.2zM1473.3 1231.9h2.2v1.4h-2.2zM1495.2 1218.2h2.2v1.4h-2.2zM1517.1 1202.7h2.2v1.4h-2.2zM1539 1185.7h2.2v1.4h-2.2zM1560.9 1171.4h2.2v1.4h-2.2zM1582.8 1165.4h2.2v1.4h-2.2zM1604.7 1170.1h2.2v1.4h-2.2zM1626.6 1193h2.2v1.4h-2.2zM1648.5 1236.8h2.2v1.4h-2.2zM1670.4 1306h2.2v1.4h-2.2zM1692.3 1385.7h2.2v1.4h-2.2zM1714.2 1458.5h2.2v1.4h-2.2zM1736.1 1513h2.2v1.4h-2.2zM1758 1549.5h2.2v1.4h-2.2zM1779.9 1572.5h2.2v1.4h-2.2zM1801.8 1588h2.2v1.4h-2.2z"/>
<path fill="#8000ff" d="M1101 1492.2h2.2v1.4h-2.2zM1122.9 1480.2h2.2v1.4h-2.2zM1144.8 1466.7h2.2v1.4h-2.2zM1166.7 1452.4h2.2v1.4h-2.2zM1188.6 1438.1h2.2v1.4h-2.2zM1210.5 1422.1h2.2v1.4h-2.2zM1232.4 1404.9h2.2v1.4h-2.2zM1254.3 1387.6h2.2v1.4h-2.2zM1276.2 1367.7h2.2v1.4h-2.2zM1298.1 1345.9h2.2v1.4h-2.2zM1320 1324.3h2.2v1.4h-2.2zM1341.9 1303.6h2.2v1.4h-2.2zM1363.8 1286.7h2.2v1.4h-2.2zM1385.7 1273.2h2.2v1.4h-2.2zM1407.6 1264.1h2.2v1.4h-2.2zM1429.5 1259h2.2v1.4h-2.2zM1451.4 1253.4h2.2v1.4h-2.2zM1473.3 1244.6h2.2v1.4h-2.2zM1495.2 1232.2h2.2v1.4h-2.2zM1517.1 1218.5h2.2v1.4h-2.2zM1539 1203.9h2.2v1.4h-2.2zM1560.9 1191.8h2.2v1.4h-2.2zM1582.8 1188.1h2.2v1.4h-2.2zM1604.7 1193.4h2.2v1.4h-2.2zM1626.6 1217.5h2.2v1.4h-2.2zM1648.5 1260.2h2.2v1.4h-2.2zM1670.4 1325.6h2.2v1.4h-2.2zM1692.3 1400.1h2.2v1.4h-2.2zM1714.2 1468h2.2v1.4h-2.2zM1736.1 1519.1h2.2v1.4h-2.2zM1758 1552.9h2.2v1.4h-2.2zM1779.9 1574.7h2.2v1.4h-2.2zM1801.8 1589.3h2.2v1.4h-2.2z"/>
<path fill="#000000" d="M1101 1492.5h2.2v1.4h-2.2zM1122.9 1481.1h2.2v1.4h-2.2zM1144.8 1467.9h2.2v1.4h-2.2zM1166.7 1454.5h2.2v1.4h-2.2zM1188.6 1441h2.2v1.4h-2.2zM1210.5 1425.8h2.2v1.4h-2.2zM1232.4 1409.5h2.2v1.4h-2.2zM1254.3 1393.1h2.2v1.4h-2.2zM1276.2 1375.3h2.2v1.4h-2.2zM1298.1 1355.2h2.2v1.4h-2.2zM1320 1335.5h2.2v1.4h-2.2zM1341.9 1316.5h2.2v1.4h-2.2zM1363.8 1301.8h2.2v1.4h-2.2zM1385.7 1289.5h2.2v1.4h-2.2zM1407.6 1281.3h2.2v1.4h-2.2zM1429.5 1276.4h2.2v1.4h-2.2zM1451.4 1271.1h2.2v1.4h-2.2zM1473.3 1263.7h2.2v1.4h-2.2zM1495.2 1253.2h2.2v1.4h-2.2zM1517.1 1242.3h2.2v1.4h-2.2zM1539 1231.4h2.2v1.4h-2.2zM1560.9 1222.5h2.2v1.4h-2.2zM1582.8 1222.2h2.2v1.4h-2.2zM1604.7 1228.6h2.2v1.4h-2.2zM1626.6 1254.4h2.2v1.4h-2.2zM1648.5 1295.4h2.2v1.4h-2.2zM1670.4 1355h2.2v1.4h-2.2zM1692.3 1421.8h2.2v1.4h-2.2zM1714.2 1482.5h2.2v1.4h-2.2zM1736.1 1528.2h2.2v1.4h-2.2zM1758 1558.1h2.2v1.4h-2.2zM1779.9 1578h2.2v1.4h-2.2zM1801.8 1591.1h2.2v1.4h-2.2z"/>
<path fill="#0000ff" d="M1101 1492.8h2.2v1.6h-2.2zM1122.9 1482h2.2v1.6h-2.2zM1144.8 1469.3h2.2v1.6h-2.2zM1166.7 1457h2.2v1.6h-2.2zM1188.6 1444.4h2.2v1.6h-2.2zM1210.5 1430.2h2.2v1.6h-2.2zM1232.4 1414.9h2.2v1.6h-2.2zM1254.3 1399.6h2.2v1.6h-2.2zM1276.2 1384.3h2.2v1.6h-2.2zM1298.1 1366.3h2.2v1.6h-2.2zM1320 1348.9h2.2v1.6h-2.2zM1341.9 1332h2.2v1.6h-2.2zM1363.8 1319.8h2.2v1.6h-2.2zM1385.7 1309h2.2v1.6h-2.2zM1407.6 1301.8h2.2v1.6h-2.2zM1429.5 1297.2h2.2v1.6h-2.2zM1451.4 1292.2h2.2v1.6h-2.2zM1473.3 1286.6h2.2v1.6h-2.2zM1495.2 1278.4h2.2v1.6h-2.2zM1517.1 1270.8h2.2v1.6h-2.2zM1539 1264.3h2.2v1.6h-2.2zM1560.9 1259.4h2.2v1.6h-2.2zM1582.8 1263.1h2.2v1.6h-2.2zM1604.7 1270.8h2.2v1.6h-2.2zM1626.6 1298.7h2.2v1.6h-2.2zM1648.5 1337.6h2.2v1.6h-2.2zM1670.4 1390.2h2.2v1.6h-2.2zM1692.3 1447.9h2.2v1.6h-2.2zM1714.2 1499.7h2.2v1.6h-2.2zM1736.1 1539.2h2.2v1.6h-2.2zM1758 1564.3h2.2v1.6h-2.2zM1779.9 1581.9h2.2v1.6h-2.2zM1801.8 1593.3h2.2v1.6h-2.2z"/>
<path fill="#ff1493" d="M378.3 1347.7h2.2v1.4h-2.2zM400.2 1371.5h2.2v1.4h-2.2zM422.1 1399.8h2.2v1.4h-2.2zM444 1416h2.2v1.4h-2.2zM465.9 1455.1h2.2v1.4h-2.2zM487.8 1470.3h2.2v1.4h-2.2zM509.7 1469.6h2.2v1.4h-2.2zM531.6 1484h2.2v1.4h-2.2zM553.5 1491.8h2.2v1.4h-2.2zM575.4 1505.7h2.2v1.4h-2.2zM597.3 1512.2h2.2v1.4h-2.2zM619.2 1520.8h2.2v1.4h-2.2zM641.1 1526.3h2.2v1.4h-2.2zM663 1533.6h2.2v1.4h-2.2zM860.1 1583h2.2v1.4h-2.2zM882 1586.7h2.2v1.4h-2.2zM903.9 1589.5h2.2v1.4h-2.2zM925.8 1597h2.2v1.4h-2.2zM947.7 1594.2h2.2v1.4h-2.2zM969.6 1585.8h2.2v1.4h-2.2zM991.5 1582.1h2.2v1.4h-2.2z"/>
<path fill="#ff1493" d="M860.1 1586.7h2.2v1.4h-2.2zM903.9 1586.7h2.2v1.4h-2.2zM925.8 1585.8h2.2v1.4h-2.2zM947.7 1581.2h2.2v1.4h-2.2zM969.6 1581.2h2.2v1.4h-2.2z"/>
<path fill="#800000" d="M378.3 1392.7h2.2v1.4h-2.2zM400.2 1408.5h2.2v1.4h-2.2zM422.1 1408.1h2.2v1.4h-2.2zM444 1428.5h2.2v1.4h-2.2zM465.9 1472.2h2.2v1.4h-2.2zM509.7 1480.6h2.2v1.4h-2.2zM531.6 1496.3h2.2v1.4h-2.2zM553.5 1497h2.2v1.4h-2.2zM575.4 1512.8h2.2v1.4h-2.2z"/>
</g>
</g>
<text transform="matrix(1.0192 0 0 1.0331 115.54 1540.61)" font-size="80" font-weight="bold">0.0</text>
<text transform="matrix(1.0192 0 0 1.0331 115.54 1247.52)" font-size="80" font-weight="bold">0.2</text>
<text transform="matrix(1.0192 0 0 1.0331 115.54 954.43)" font-size="80" font-weight="bold">0.4</text>
<text transform="matrix(1.0192 0 0 1.0331 115.54 661.34)" font-size="80" font-weight="bold">0.6</text>
<text transform="matrix(1.0192 0 0 1.0331 115.54 368.25)" font-size="80" font-weight="bold">0.8</text>
<text transform="matrix(1.0192 0 0 1.0331 115.54 75.16)" font-size="80" font-weight="bold">1.0</text>
<text transform="matrix(0.9974 0 0 1.0370 409.70 1759.17)" font-size="80" font-weight="bold">400</text>
<text transform="matrix(0.9974 0 0 1.0370 847.70 1759.17)" font-size="80" font-weight="bold">500</text>
<text transform="matrix(0.9974 0 0 1.0370 1285.70 1759.17)" font-size="80" font-weight="bold">600</text>
<text transform="matrix(0.9974 0 0 1.0370 1723.70 1759.17)" font-size="80" font-weight="bold">700</text>
<text transform="matrix(0.9974 0 0 1.0370 2161.70 1759.17)" font-size="80" font-weight="bold">800</text>
<text transform="matrix(1.0008 0 0 1.0000 908.00 1824.20)" font-size="80" font-weight="bold" fill="#000" xml:space="preserve">Wavelength (nm)</text>
<text transform="translate(84.2 1099.4) rotate(-90)" font-size="81.6" font-weight="bold">Absorbance <tspan font-size="93">(</tspan>a.u<tspan font-size="93">)</tspan></text>
<text transform="matrix(1 0 0 1.034 296.9 153.8)" font-size="79.6" font-weight="bold">c) PEDOT-PSS<tspan x="521.2" font-style="italic" font-size="80.9" textLength="74.2" lengthAdjust="spacingAndGlyphs">@</tspan><tspan x="594.4"> 6 wt.% BC</tspan></text>
<text transform="matrix(0.9858 0 0 1.0030 292.21 266.90)" font-size="75" font-weight="normal" fill="#000" xml:space="preserve">Irradiation time (min.)</text>
<g id="legend">
<line x1="293.5" y1="333.4" x2="458.4" y2="333.4" stroke="#000000" stroke-width="7.4" stroke-linecap="round"/>
<line x1="293.4" y1="426.5" x2="458.5" y2="426.5" stroke="#ff00ff" stroke-width="9.2" stroke-linecap="round"/>
<line x1="293.1" y1="519.5" x2="458.8" y2="519.5" stroke="#ff0000" stroke-width="8.6" stroke-linecap="round"/>
<line x1="293.4" y1="612.4" x2="458.5" y2="612.4" stroke="#800000" stroke-width="7.2" stroke-linecap="round"/>
<line x1="293.4" y1="705.4" x2="458.5" y2="705.4" stroke="#0000ff" stroke-width="7.2" stroke-linecap="round"/>
<rect x="366.0" y="323.4" width="20" height="20" fill="#000"/>
<circle cx="375.7" cy="426.5" r="9.4" fill="#fff" stroke="#f0f" stroke-width="2.1"/>
<use href="#mr" x="376.0" y="519.5"/>
<g transform="translate(376.0 612.4)"><rect x="-10" y="-9.5" width="20" height="19" fill="#800000"/><rect x="1.5" y="-7.5" width="6.5" height="15" fill="#fff"/></g>
<use href="#mb" x="375.6" y="705.2"/>
<text transform="matrix(1.0000 0 0 1.0272 476.60 359.23)" font-size="75" font-weight="normal" fill="#000" xml:space="preserve">0</text>
<text transform="matrix(1.0061 0 0 1.0193 475.86 451.74)" font-size="75" font-weight="bold" fill="#000" xml:space="preserve">60</text>
<text transform="matrix(0.9981 0 0 1.0193 475.81 543.84)" font-size="75" font-weight="bold" fill="#000" xml:space="preserve">120</text>
<text transform="matrix(0.9981 0 0 1.0193 475.81 636.64)" font-size="75" font-weight="bold" fill="#000" xml:space="preserve">180</text>
<text transform="matrix(1.0047 0 0 1.0133 475.09 729.24)" font-size="75" font-weight="bold" fill="#000" xml:space="preserve">240</text>
</g>
<g fill="#000" shape-rendering="crispEdges"><rect x="1825" y="307" width="3" height="836"/><path d="M1816 1142H1837.3L1828 1183H1825Z"/></g>
</svg></body></html>
